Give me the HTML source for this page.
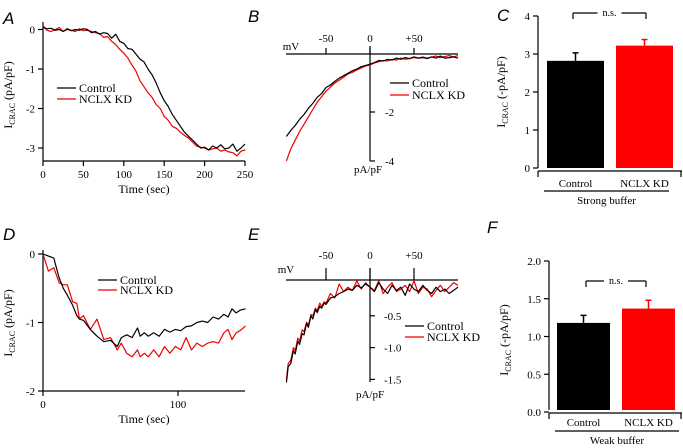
<!DOCTYPE html>
<html><head><meta charset="utf-8"><style>
body{margin:0;background:#fff}
svg{display:block;font-family:"Liberation Serif",serif}
.lab{font-family:"Liberation Sans",sans-serif;font-style:italic;font-size:17px}
</style></head><body>
<svg id="fig" width="683" height="448" viewBox="0 0 683 448">
<g id="g" stroke-linecap="butt"></g>
</svg>
<script>
// ---------- Panel A data ----------
const aTime=[0,5,10,15,20,25,30,35,40,45,50,55,60,65,70,75,80,85,90,95,100,105,110,115,120,125,130,135,140,145,150,155,160,165,170,175,180,185,190,195,200,205,210,215,220,225,230,235,240,245,250];
const aControl=[0.05,0.02,0.03,-0.02,0.0,-0.05,0.02,-0.03,0.0,-0.02,0.02,0.0,-0.08,-0.05,-0.12,-0.08,-0.1,-0.22,-0.12,-0.3,-0.35,-0.48,-0.5,-0.62,-0.75,-0.82,-1.0,-1.15,-1.35,-1.6,-1.8,-1.95,-2.15,-2.3,-2.45,-2.6,-2.7,-2.8,-2.9,-3.0,-2.98,-3.05,-2.95,-3.0,-2.92,-3.02,-3.0,-2.9,-3.08,-3.0,-2.9];
const aNclx=[0.1,-0.02,-0.05,0.0,0.05,-0.05,0.0,-0.02,-0.05,0.02,-0.03,-0.02,-0.05,-0.08,-0.1,-0.2,-0.18,-0.3,-0.38,-0.5,-0.6,-0.72,-0.9,-1.05,-1.3,-1.45,-1.6,-1.72,-1.9,-2.0,-2.2,-2.3,-2.45,-2.5,-2.6,-2.68,-2.75,-2.85,-2.95,-2.98,-3.0,-3.05,-3.02,-3.0,-3.08,-3.05,-3.1,-3.12,-3.2,-3.08,-3.05];
// ---------- Panel B data ----------
const bMv=[-95,-90,-85,-80,-75,-70,-65,-60,-55,-50,-45,-40,-35,-30,-25,-20,-15,-10,-5,0,5,10,15,20,25,30,35,40,45,50,55,60,65,70,75,80,85,90,95,100];
const bControl=[-3.0,-2.75,-2.55,-2.3,-2.1,-1.85,-1.65,-1.4,-1.25,-1.0,-0.9,-0.75,-0.62,-0.52,-0.42,-0.32,-0.25,-0.15,-0.1,-0.05,0.02,0.1,0.08,0.15,0.12,0.2,0.15,0.22,0.18,0.25,0.2,0.22,0.18,0.25,0.2,0.28,0.2,0.22,0.25,0.2];
const bNclx=[-4.0,-3.5,-3.15,-2.8,-2.5,-2.2,-1.9,-1.6,-1.38,-1.15,-0.98,-0.82,-0.7,-0.58,-0.45,-0.38,-0.28,-0.2,-0.12,-0.08,0.0,0.05,0.1,0.08,0.15,0.12,0.2,0.15,0.18,0.22,0.2,0.25,0.2,0.24,0.28,0.22,0.26,0.3,0.25,0.3];
// ---------- Panel C data ----------
const cGroups=["Control","NCLX KD"];
const cMeans=[2.82,3.22];
const cErrs=[0.21,0.16];
const cTicks=[0,1,2,3,4];
// ---------- Panel D data ----------
const dTime=[0,4,8,12,15,18,22,25,27,30,35,40,45,50,55,58,62,66,70,72,75,78,82,86,90,94,98,102,106,110,114,118,122,126,130,134,137,140,143,146,150];
const dControl=[0,-0.03,-0.06,-0.35,-0.5,-0.6,-0.75,-0.9,-0.95,-0.97,-1.1,-1.2,-1.28,-1.26,-1.35,-1.22,-1.18,-1.22,-1.08,-1.2,-1.15,-1.2,-1.15,-1.2,-1.1,-1.14,-1.1,-1.12,-1.06,-1.05,-1.0,-0.98,-1.0,-0.92,-0.95,-0.88,-0.92,-0.8,-0.86,-0.82,-0.8];
const dNclx=[0,-0.25,-0.2,-0.42,-0.45,-0.45,-0.7,-0.72,-0.95,-0.9,-1.1,-0.95,-1.25,-1.22,-1.4,-1.3,-1.45,-1.5,-1.4,-1.5,-1.45,-1.5,-1.4,-1.5,-1.35,-1.45,-1.35,-1.4,-1.22,-1.4,-1.3,-1.35,-1.3,-1.28,-1.3,-1.15,-1.1,-1.25,-1.15,-1.12,-1.05];
// ---------- Panel E data ----------
const eMv=[-95,-93,-90,-87,-85,-82,-80,-77,-75,-72,-70,-67,-65,-62,-60,-57,-55,-52,-50,-45,-40,-35,-30,-25,-20,-15,-10,-5,0,5,10,15,20,25,30,35,40,45,50,55,60,65,70,75,80,85,90,95,100];
const eControl=[-1.55,-1.3,-1.25,-1.05,-1.1,-0.9,-0.95,-0.78,-0.8,-0.62,-0.68,-0.5,-0.55,-0.4,-0.45,-0.35,-0.38,-0.3,-0.32,-0.22,-0.2,-0.15,-0.12,-0.08,-0.1,-0.02,-0.06,0.0,-0.05,-0.12,0.02,-0.08,-0.15,-0.02,-0.1,-0.05,-0.18,0.0,-0.08,-0.12,-0.02,-0.1,-0.15,-0.05,-0.12,-0.08,-0.15,-0.1,-0.05];
const eNclx=[-1.5,-1.25,-1.2,-1.0,-1.05,-0.85,-0.9,-0.72,-0.75,-0.6,-0.65,-0.48,-0.5,-0.38,-0.42,-0.3,-0.35,-0.28,-0.3,-0.15,-0.22,0.0,-0.12,-0.05,-0.1,0.05,-0.08,0.02,-0.05,-0.1,0.05,-0.15,-0.05,0.02,-0.12,-0.08,-0.02,-0.12,0.05,-0.15,-0.05,-0.08,-0.2,-0.1,-0.02,-0.12,-0.05,0.02,-0.02];
// ---------- Panel F data ----------
const fGroups=["Control","NCLX KD"];
const fMeans=[1.18,1.37];
const fErrs=[0.1,0.11];
const fTicks=[0,0.5,1.0,1.5,2.0];

const NS="http://www.w3.org/2000/svg";
const G=document.getElementById('g');
function mk(tag,attrs,parent){const e=document.createElementNS(NS,tag);for(const k in attrs)e.setAttribute(k,attrs[k]);(parent||G).appendChild(e);return e;}
function ln(x1,y1,x2,y2,name,c,w){const e=mk('line',{x1,y1,x2,y2,stroke:c||'#000','stroke-width':w||1.2});

return e;}
function tx(x,y,s,name,anchor,size,cls){const e=mk('text',{x,y,'text-anchor':anchor||'middle','font-size':size||11});if(cls)e.setAttribute('class',cls);e.textContent=s;

return e;}
function poly(xs,ys,sx,sy,c,name){const pts=xs.map((v,i)=>sx(v).toFixed(1)+','+sy(ys[i]).toFixed(1)).join(' ');const e=mk('polyline',{points:pts,fill:'none',stroke:c,'stroke-width':1.2,'stroke-linejoin':'round'});

return e;}
function ylab(x,y,unit,name){const t=mk('text',{transform:`translate(${x},${y}) rotate(-90)`,'text-anchor':'middle','font-size':12});


t.innerHTML=`I<tspan font-size="8" dy="3">CRAC</tspan><tspan dy="-3"> ${unit}</tspan>`;}
function legend(x,y,dy){ln(x,y,x+19,y,'legend-control-line','#000');tx(x+22,y+4,'Control','legend-control','start',12);
ln(x,y+dy,x+19,y+dy,'legend-nclx-line','#e00');tx(x+22,y+dy+4,'NCLX KD','legend-nclx','start',12);}

// ---- Panel A ----
tx(3,24,'A','panel-label-a','start',17,'lab');
{const sx=v=>43+v*202/250, sy=v=>29.5-v*39.5;
ln(43,22,43,161,'a-y-axis');ln(43,161,245,161,'a-x-axis');
[0,-1,-2,-3].forEach(v=>{ln(38,sy(v),43,sy(v),'a-y-tick');tx(35,sy(v)+4,String(v),'a-y-tick-label','end',11);});
[0,50,100,150,200,250].forEach(v=>{ln(sx(v),161,sx(v),166,'a-x-tick');tx(sx(v),178,String(v),'a-x-tick-label','middle',11);});
tx(144,193,'Time (sec)','a-x-title','middle',12);ylab(12,95,'(pA/pF)','a-y-title');
poly(aTime,aNclx,sx,sy,'#e00','a-nclx-trace');poly(aTime,aControl,sx,sy,'#000','a-control-trace');
legend(57,88,11);}

// ---- Panel B ----
tx(248,22,'B','panel-label-b','start',17,'lab');
{const sx=v=>370+v*44/50, sy=v=>63-v*24.5;
ln(286,54,458,54,'b-x-axis');ln(370,46,370,161,'b-y-axis');
[-50,0,50].forEach(v=>{ln(sx(v),48,sx(v),54,'b-x-tick');tx(sx(v),42,v>0?'+'+v:String(v),'b-x-tick-label','middle',11);});
[-2,-4].forEach(v=>{ln(370,sy(v),375,sy(v),'b-y-tick');tx(385,sy(v)+4,String(v),'b-y-tick-label','start',11);});
tx(291,50,'mV','b-x-title','middle',11);tx(368,173,'pA/pF','b-y-title','middle',11);
poly(bMv,bNclx,sx,sy,'#e00','b-nclx-trace');poly(bMv,bControl,sx,sy,'#000','b-control-trace');
legend(390,83,12);}

// bar panel helper
function bars(p,groups,means,errs,ticks,sy,y0,axL,bx,bw,labY,ulY,ulX1,ulX2,grp,nsY,nsX1,nsX2,ylx,yly,fmt){
ln(axL,sy(ticks[ticks.length-1]),axL,y0,p+'-y-axis');
ticks.forEach(v=>{ln(axL-5,sy(v),axL,sy(v),p+'-y-tick');tx(axL-8,sy(v)+4,fmt(v),p+'-y-tick-label','end',11);});
ln(axL,y0+3,682,y0+3,p+'-x-axis');ln(axL,y0+3,axL,y0+9,p+'-x-tick');ln(681,y0+3,681,y0+9,p+'-x-tick');
const cols=['#000','#f00'];
groups.forEach((g,i)=>{const x=bx[i];const r=mk('rect',{x,y:sy(means[i]),width:bw,height:y0-sy(means[i]),fill:cols[i]});


ln(x+bw/2,sy(means[i]),x+bw/2,sy(means[i]+errs[i]),p+'-error-bar',cols[i],1.5);
ln(x+bw/2-3,sy(means[i]+errs[i]),x+bw/2+3,sy(means[i]+errs[i]),p+'-error-cap',cols[i],1.5);
tx(x+bw/2,labY,g,p+'-x-tick-label','middle',11);});
ln(ulX1,ulY,ulX2,ulY,p+'-group-line');tx((ulX1+ulX2)/2,ulY+13,grp,p+'-group-label','middle',11);
const seg=(nsX2-nsX1-24)/2;
ln(nsX1,nsY,nsX1+seg,nsY,p+'-ns-bracket');ln(nsX2-seg,nsY,nsX2,nsY,p+'-ns-bracket');
ln(nsX1,nsY,nsX1,nsY+6,p+'-ns-bracket');ln(nsX2,nsY,nsX2,nsY+6,p+'-ns-bracket');
tx((nsX1+nsX2)/2,nsY+3,'n.s.',p+'-ns-label','middle',10);
ylab(ylx,yly,'(-pA/pF)',p+'-y-title');}

// ---- Panel C ----
tx(497,21,'C','panel-label-c','start',17,'lab');
bars('c',cGroups,cMeans,cErrs,cTicks,v=>168-v*38,168,538,[547,616],57,187,191,544,669,'Strong buffer',13,573,646,505,92,v=>String(v));

// ---- Panel D ----
tx(3,240,'D','panel-label-d','start',17,'lab');
{const sx=v=>43+v*1.35, sy=v=>254-v*68.5;
ln(43,250,43,391,'d-y-axis');ln(43,391,245,391,'d-x-axis');
[0,-1,-2].forEach(v=>{ln(38,sy(v),43,sy(v),'d-y-tick');tx(35,sy(v)+4,String(v),'d-y-tick-label','end',11);});
[0,100].forEach(v=>{ln(sx(v),391,sx(v),396,'d-x-tick');tx(sx(v),408,String(v),'d-x-tick-label','middle',11);});
tx(144,423,'Time (sec)','d-x-title','middle',12);ylab(12,323,'(pA/pF)','d-y-title');
poly(dTime,dNclx,sx,sy,'#e00','d-nclx-trace');poly(dTime,dControl,sx,sy,'#000','d-control-trace');
legend(98,280,10);}

// ---- Panel E ----
tx(248,240,'E','panel-label-e','start',17,'lab');
{const sx=v=>370+v*44/50, sy=v=>284-v*63.6;
ln(286,280,458,280,'e-x-axis');ln(370,268,370,382,'e-y-axis');
[-50,0,50].forEach(v=>{ln(sx(v),268,sx(v),280,'e-x-tick');tx(sx(v),259,v>0?'+'+v:String(v),'e-x-tick-label','middle',11);});
[-0.5,-1.0,-1.5].forEach(v=>{ln(370,sy(v),375,sy(v),'e-y-tick');tx(384,sy(v)+4,v.toFixed(1),'e-y-tick-label','start',11);});
tx(286,273,'mV','e-x-title','middle',11);tx(370,398,'pA/pF','e-y-title','middle',11);
poly(eMv,eNclx,sx,sy,'#e00','e-nclx-trace');poly(eMv,eControl,sx,sy,'#000','e-control-trace');
legend(405,326,11);}

// ---- Panel F ----
tx(487,233,'F','panel-label-f','start',17,'lab');
bars('f',fGroups,fMeans,fErrs,fTicks,v=>412-v*75.5,410,549,[557,622],53,426,431,555,679,'Weak buffer',281,586,646,508,340,v=>v.toFixed(1));
</script>
</body></html>
